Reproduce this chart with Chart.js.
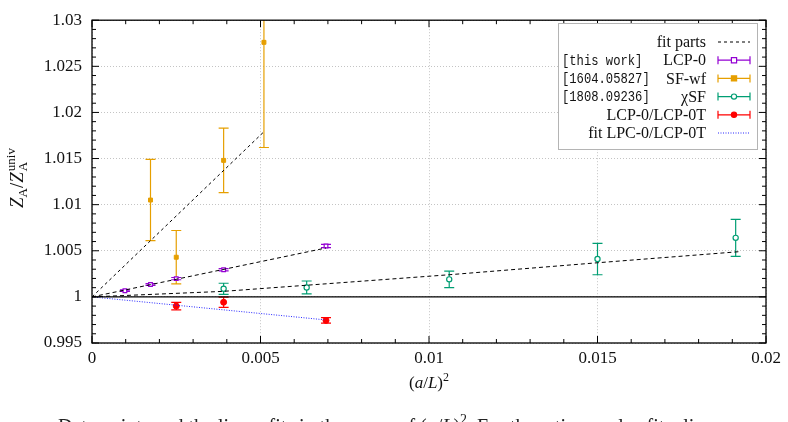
<!DOCTYPE html>
<html>
<head>
<meta charset="utf-8">
<script src="https://cdn.jsdelivr.net/npm/chart.js@4"></script>
<style>
  body { margin: 0; background: #fff; }
  #wrap { width: 788px; height: 422px; overflow: hidden; }
</style>
</head>
<body>
<div id="wrap"><canvas id="myChart" width="788" height="422"></canvas></div>
<script>
// (a/L)^2 values and Z_A/Z_A^univ
const xLcp0 = [0.000977, 0.001736, 0.0025, 0.003906, 0.006944];
const yLcp0 = [1.00067, 1.00134, 1.00198, 1.00294, 1.00552];
const eLcp0 = [0.00008, 0.0001, 0.00012, 0.00013, 0.00018];

const xSfwf = [0.001736, 0.0025, 0.003906, 0.005102];
const ySfwf = [1.0105, 1.0043, 1.0148, 1.0276];
const eSfwf = [0.0044, 0.0029, 0.0035, 0.0114];

const xChi = [0.003906, 0.00637, 0.0106, 0.015, 0.0191];
const yChi = [1.00088, 1.00102, 1.0019, 1.0041, 1.0064];
const eChi = [0.0006, 0.0007, 0.0009, 0.0017, 0.002];

const xRatio = [0.0025, 0.003906, 0.006944];
const yRatio = [0.999, 0.99942, 0.99745];
const eRatio = [0.0004, 0.00055, 0.0003];

// fit curves
const xFitSf = [0, 0.0051];
const yFitSf = [1.0, 1.0179];
const xFitLcp = [0, 0.00694];
const yFitLcp = [1.0, 1.0053];
const xFitChi = [0, 0.0039, 0.0106, 0.015, 0.0192];
const yFitChi = [1.0, 1.0006, 1.0024, 1.0037, 1.0049];
const xFitRatio = [0, 0.00694];
const yFitRatio = [1.0, 0.9975];

const xTicks = [0, 0.005, 0.01, 0.015, 0.02];
const yTicks = [0.995, 1, 1.005, 1.01, 1.015, 1.02, 1.025, 1.03];

const purple = '#9400d3', orange = '#e69f00', green = '#009e73', red = '#ff0000', blue = '#2828ff';
const serif = '"Liberation Serif", "DejaVu Serif", serif';

function pts(xs, ys) {
    return xs.map(function (x, i) { return { x: x, y: ys[i] }; });
}

function fitSet(xs, ys, color, dash) {
    return { data: pts(xs, ys), showLine: true, borderColor: color, borderWidth: 1,
        borderDash: dash, pointRadius: 0, fill: false, tension: 0 };
}

const data = {
    datasets: [
        { data: [{ x: 0, y: 1 }, { x: 0.02, y: 1 }], showLine: true, borderColor: '#000', borderWidth: 1.3, pointRadius: 0 },
        fitSet(xFitSf, yFitSf, '#000', [3, 3]),
        fitSet(xFitLcp, yFitLcp, '#000', [4, 3]),
        fitSet(xFitChi, yFitChi, '#000', [4, 3]),
        fitSet(xFitRatio, yFitRatio, blue, [1, 1.5]),
        { data: pts(xLcp0, yLcp0), err: eLcp0, borderColor: purple, backgroundColor: '#fff', pointStyle: 'rect', pointRadius: 2.6, borderWidth: 1.2 },
        { data: pts(xSfwf, ySfwf), err: eSfwf, borderColor: orange, backgroundColor: orange, pointStyle: 'rect', pointRadius: 2.8, borderWidth: 1 },
        { data: pts(xChi, yChi), err: eChi, borderColor: green, backgroundColor: '#fff', pointStyle: 'circle', pointRadius: 2.6, borderWidth: 1.2 },
        { data: pts(xRatio, yRatio), err: eRatio, borderColor: red, backgroundColor: red, pointStyle: 'circle', pointRadius: 3, borderWidth: 1 }
    ]
};

// draws a row of text pieces (font, offset) starting at x
function rich(ctx, parts, x, y, align) {
    var w = 0;
    parts.forEach(function (p) { ctx.font = p.f; w += ctx.measureText(p.t).width + (p.k || 0); });
    var cx = align === 'center' ? x - w / 2 : (align === 'right' ? x - w : x);
    ctx.textAlign = 'left';
    parts.forEach(function (p) {
        ctx.font = p.f;
        ctx.fillText(p.t, cx, y + (p.dy || 0));
        cx += ctx.measureText(p.t).width + (p.k || 0);
    });
}

const bigF = '17px ' + serif, itF = 'italic 17px ' + serif, smF = '12px ' + serif;
const yBig = '19px ' + serif, yIt = 'italic 19px ' + serif, ySm = '13px ' + serif;

const decor = {
    id: 'decor',
    beforeDatasetsDraw: function (chart) {
        var ctx = chart.ctx, xs = chart.scales.x, ys = chart.scales.y, a = chart.chartArea;
        ctx.save();
        ctx.beginPath();
        ctx.rect(a.left, a.top, a.right - a.left, a.bottom - a.top);
        ctx.clip();
        chart.data.datasets.forEach(function (ds) {
            if (!ds.err) return;
            ctx.strokeStyle = ds.borderColor;
            ctx.lineWidth = 1.2;
            ds.data.forEach(function (p, i) {
                var px = xs.getPixelForValue(p.x);
                var y1 = ys.getPixelForValue(p.y + ds.err[i]);
                var y2 = ys.getPixelForValue(p.y - ds.err[i]);
                ctx.beginPath();
                ctx.moveTo(px, y1); ctx.lineTo(px, y2);
                ctx.moveTo(px - 5, y1); ctx.lineTo(px + 5, y1);
                ctx.moveTo(px - 5, y2); ctx.lineTo(px + 5, y2);
                ctx.stroke();
            });
        });
        ctx.restore();
    },
    afterDraw: function (chart) {
        var ctx = chart.ctx, xs = chart.scales.x, ys = chart.scales.y, a = chart.chartArea;
        ctx.save();
        // frame and inward ticks
        ctx.strokeStyle = '#000';
        ctx.lineWidth = 1.3;
        ctx.strokeRect(a.left, a.top, a.right - a.left, a.bottom - a.top);
        ctx.lineWidth = 1;
        ctx.beginPath();
        for (var i = 0; i <= 20; i++) {
            var px = xs.getPixelForValue(i * 0.001);
            var len = i % 5 === 0 ? 7 : 4;
            ctx.moveTo(px, a.bottom); ctx.lineTo(px, a.bottom - len);
            ctx.moveTo(px, a.top); ctx.lineTo(px, a.top + len);
        }
        for (var j = 0; j <= 35; j++) {
            var py = ys.getPixelForValue(0.995 + j * 0.001);
            var l2 = j % 5 === 0 ? 7 : 4;
            ctx.moveTo(a.left, py); ctx.lineTo(a.left + l2, py);
            ctx.moveTo(a.right, py); ctx.lineTo(a.right - l2, py);
        }
        ctx.stroke();

        // axis titles
        ctx.fillStyle = '#111';
        ctx.textBaseline = 'alphabetic';
        rich(ctx, [{ t: '(', f: bigF }, { t: 'a', f: itF }, { t: '/', f: bigF }, { t: 'L', f: itF },
            { t: ')', f: bigF }, { t: '2', f: smF, dy: -7 }], xs.getPixelForValue(0.01), 388, 'center');

        ctx.save();
        ctx.translate(23, 178);
        ctx.rotate(-Math.PI / 2);
        var parts = [{ t: 'Z', f: yIt }, { t: 'A', f: ySm, dy: 4 }, { t: '/', f: yBig }, { t: 'Z', f: yIt, k: 1 }];
        var w = 0;
        parts.forEach(function (p) { ctx.font = p.f; w += ctx.measureText(p.t).width + (p.k || 0); });
        ctx.font = ySm;
        var uw = ctx.measureText('univ').width;
        var x0 = -(w + uw) / 2;
        rich(ctx, parts, x0, 0, 'left');
        ctx.font = ySm;
        ctx.fillText('univ', x0 + w, -8);
        ctx.fillText('A', x0 + w, 4);
        ctx.restore();

        // legend
        var lx = 558, ly = 23;
        ctx.fillStyle = '#fff';
        ctx.fillRect(lx, ly, 199, 126);
        ctx.strokeStyle = '#b4b4b4';
        ctx.lineWidth = 1;
        ctx.strokeRect(lx + 0.5, ly + 0.5, 199, 126);
        var rows = [
            { l: '', r: 'fit parts', c: '#000', dash: [3, 3] },
            { l: '[this work]', r: 'LCP-0', c: purple, ds: 5 },
            { l: '[1604.05827]', r: 'SF-wf', c: orange, ds: 6 },
            { l: '[1808.09236]', r: 'χSF', c: green, ds: 7 },
            { l: '', r: 'LCP-0/LCP-0T', c: red, ds: 8 },
            { l: '', r: 'fit LPC-0/LCP-0T', c: blue, dash: [1, 1.5] }
        ];
        rows.forEach(function (r, k) {
            var ry = 42 + k * 18.2;
            ctx.fillStyle = '#111';
            ctx.textBaseline = 'middle';
            ctx.textAlign = 'right';
            ctx.font = '16px ' + serif;
            ctx.fillText(r.r, 706, ry + 1);
            if (r.l) {
                // typewriter labels are narrower in the original, squeeze them a bit
                ctx.save();
                ctx.translate(562, ry + 1);
                ctx.scale(0.84, 1);
                ctx.textAlign = 'left';
                ctx.font = '14.5px "Liberation Mono", "DejaVu Sans Mono", monospace';
                ctx.fillText(r.l, 0, 0);
                ctx.restore();
            }
            ctx.strokeStyle = r.c;
            ctx.lineWidth = 1.2;
            ctx.setLineDash(r.dash || []);
            ctx.beginPath();
            ctx.moveTo(718, ry); ctx.lineTo(750, ry);
            if (!r.dash) {
                ctx.moveTo(718, ry - 4); ctx.lineTo(718, ry + 4);
                ctx.moveTo(750, ry - 4); ctx.lineTo(750, ry + 4);
            }
            ctx.stroke();
            ctx.setLineDash([]);
            if (r.ds !== undefined) {
                var ds = chart.data.datasets[r.ds];
                ctx.fillStyle = ds.backgroundColor;
                ctx.strokeStyle = ds.borderColor;
                ctx.beginPath();
                if (ds.pointStyle === 'rect') ctx.rect(734 - 2.6, ry - 2.6, 5.2, 5.2);
                else ctx.arc(734, ry, 2.6, 0, Math.PI * 2);
                ctx.fill();
                ctx.stroke();
            }
        });

        // caption, mostly cut off at the bottom of the page
        ctx.fillStyle = '#222';
        ctx.textAlign = 'left';
        ctx.textBaseline = 'alphabetic';
        rich(ctx, [{ t: 'Data points and the linear fits in the range of ', f: '20px ' + serif },
            { t: '(', f: '20px ' + serif }, { t: 'a', f: 'italic 20px ' + serif }, { t: '/', f: '20px ' + serif },
            { t: 'L', f: 'italic 20px ' + serif }, { t: ')', f: '20px ' + serif }, { t: '2', f: '14px ' + serif, dy: -9 },
            { t: '. For the ratio we also fit a line', f: '20px ' + serif }], 58, 433, 'left');
        ctx.restore();
    }
};

function fmt(v) { return String(parseFloat(v.toFixed(4))); }

const config = {
    type: 'scatter',
    data: data,
    options: {
        responsive: false,
        animation: false,
        devicePixelRatio: 1,
        layout: { padding: { top: 15, right: 22, left: 0, bottom: 0 } },
        plugins: { legend: { display: false }, tooltip: { enabled: false } },
        scales: {
            x: {
                type: 'linear', min: 0, max: 0.02,
                afterFit: function (s) { s.height = 79; },
                afterBuildTicks: function (s) { s.ticks = xTicks.map(function (v) { return { value: v }; }); },
                ticks: { callback: fmt, font: { family: serif, size: 17 }, color: '#111', padding: 5, maxRotation: 0 },
                grid: { color: '#c4c4c4', lineWidth: 1, drawTicks: false },
                border: { display: false, dash: [1, 2] }
            },
            y: {
                type: 'linear', min: 0.995, max: 1.03,
                afterFit: function (s) { s.width = 92; },
                afterBuildTicks: function (s) { s.ticks = yTicks.map(function (v) { return { value: v }; }); },
                ticks: { callback: fmt, font: { family: serif, size: 17 }, color: '#111', padding: 10 },
                grid: { color: '#c4c4c4', lineWidth: 1, drawTicks: false },
                border: { display: false, dash: [1, 2] }
            }
        }
    },
    plugins: [decor]
};

var ctx = document.getElementById('myChart').getContext('2d');
var myChart = new Chart(ctx, config);
</script>
</body>
</html>
